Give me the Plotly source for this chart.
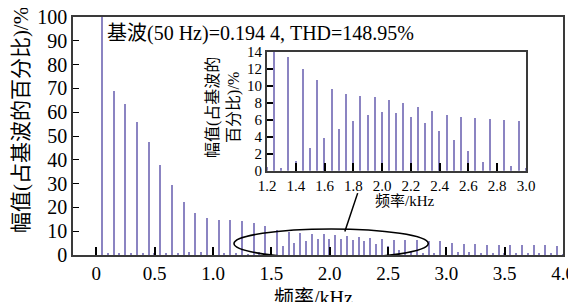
import plotly.graph_objects as go

# harmonic orders (fundamental 50 Hz) and frequencies in kHz
orders = list(range(1, 81))
freq_khz = [n * 0.05 for n in orders]
# amplitude, % of fundamental
amp_pct = [
    100, 1.0, 69, 0.8, 63.5, 0.5, 56, 0.6, 47.5, 0.5,
    38, 0.7, 29.5, 0.9, 22.4, 1.4, 17.5, 1.4, 15.4, 0.8,
    14.7, 0.7, 14.5, 0.5, 14.2, 0.35, 13.4, 1.2, 12.0, 2.7,
    10.7, 3.9, 9.7, 4.9, 9.1, 5.9, 8.8, 6.55, 8.7, 6.9,
    8.4, 6.8, 8.0, 6.4, 7.5, 5.7, 7.1, 4.7, 6.6, 3.6,
    6.35, 2.3, 6.25, 1.1, 6.1, 0.8, 6.05, 0.55, 5.9, 0.4,
    5.2, 1.4, 4.7, 1.1, 4.5, 0.8, 4.4, 0.6, 4.2, 0.5,
    4.2, 0.6, 4.2, 0.5, 4.1, 0.6, 4.0, 0.5, 3.9, 0.4,
]
main_xticks = [0, 0.5, 1.0, 1.5, 2.0, 2.5, 3.0, 3.5, 4.0]
main_xlabels = ["0", "0.5", "1.0", "1.5", "2.0", "2.5", "3.0", "3.5", "4.0"]
main_yticks = [0, 10, 20, 30, 40, 50, 60, 70, 80, 90, 100]
inset_xticks = [1.2, 1.4, 1.6, 1.8, 2.0, 2.2, 2.4, 2.6, 2.8, 3.0]
inset_xlabels = ["1.2", "1.4", "1.6", "1.8", "2.0", "2.2", "2.4", "2.6", "2.8", "3.0"]
inset_yticks = [0, 2, 4, 6, 8, 10, 12, 14]

FONT = "'Liberation Serif', 'Times New Roman', 'Noto Sans CJK SC', serif"
BAR = "#8b84c2"
FRAME = "#3a3a3a"

fig = go.Figure()
fig.add_trace(go.Bar(x=freq_khz, y=amp_pct, width=0.012, marker=dict(color=BAR, line=dict(width=0)),
                     xaxis="x", yaxis="y", showlegend=False))
fig.add_trace(go.Bar(x=freq_khz, y=amp_pct, width=0.0095, marker=dict(color=BAR, line=dict(width=0)),
                     xaxis="x2", yaxis="y2", showlegend=False))

ax_common = dict(showgrid=False, zeroline=False, showline=True, linecolor=FRAME, mirror=True,
                 ticks="inside", tickcolor="black", automargin=False, ticklabeloverflow="allow")

# page body has an 8px margin, so the figure is drawn 8px smaller and offset
fig.update_layout(
    width=568, height=294,
    margin=dict(l=65, r=13, t=9, b=47, autoexpand=False),
    paper_bgcolor="white", plot_bgcolor="white",
    font=dict(family=FONT, color="black"),
    bargap=0,
    xaxis=dict(domain=[0, 1], range=[-0.2, 4.0], tickvals=main_xticks, ticktext=main_xlabels,
               ticklen=8, tickwidth=1.5, linewidth=1.5, tickfont=dict(size=19, family=FONT),
               **ax_common),
    yaxis=dict(domain=[0, 1], range=[0, 100], tickvals=main_yticks, ticklen=6, tickwidth=1.2,
               linewidth=1.5, tickfont=dict(size=20, family=FONT), **ax_common),
    xaxis2=dict(domain=[0.396, 0.9245], range=[1.2, 3.0], anchor="y2", tickvals=inset_xticks,
                ticktext=inset_xlabels, ticklen=8, tickwidth=1.5, linewidth=2,
                tickfont=dict(size=15, family=FONT), **ax_common),
    yaxis2=dict(domain=[0.354, 0.854], range=[0, 14], anchor="x2", tickvals=inset_yticks,
                ticklen=6, tickwidth=1.5, linewidth=2, tickfont=dict(size=15, family=FONT),
                **ax_common),
)

# ellipse highlighting 1.2-2.8 kHz region and leader line to inset
fig.add_shape(type="circle", xref="x", yref="y", x0=1.18, x1=2.845, y0=-1.3, y1=10.9,
              line=dict(color="black", width=1.6), layer="above")
fig.add_shape(type="line", xref="x", yref="y", x0=2.13, y0=9.9, x1=2.24, y1=26,
              line=dict(color="black", width=1.5), layer="above")

fig.add_annotation(text="基波(50 Hz)=0.194 4, THD=148.95%", xref="x", yref="y", x=0.07, y=93,
                   xanchor="left", yanchor="middle", showarrow=False, font=dict(size=20, family=FONT))
fig.add_annotation(text="幅值(占基波的百分比)/%", xref="paper", yref="paper", x=-0.106, y=0.567,
                   xanchor="center", yanchor="middle", textangle=-90, showarrow=False,
                   font=dict(size=21, family=FONT))
fig.add_annotation(text="频率/kHz", xref="paper", yref="paper", x=0.49, y=-0.125,
                   xanchor="center", yanchor="top", showarrow=False, font=dict(size=20, family=FONT))
fig.add_annotation(text="频率/kHz", xref="paper", yref="paper", x=(405 - 73) / 490, y=(255 - 201) / 238,
                   xanchor="center", yanchor="middle", showarrow=False, font=dict(size=15, family=FONT))
fig.add_annotation(text="幅值(占基波的<br>百分比)/%", xref="paper", yref="paper", x=(223 - 73) / 490,
                   y=(255 - 108) / 238, xanchor="center", yanchor="middle", textangle=-90,
                   showarrow=False, font=dict(size=16, family=FONT))

fig.write_html("out.html")
